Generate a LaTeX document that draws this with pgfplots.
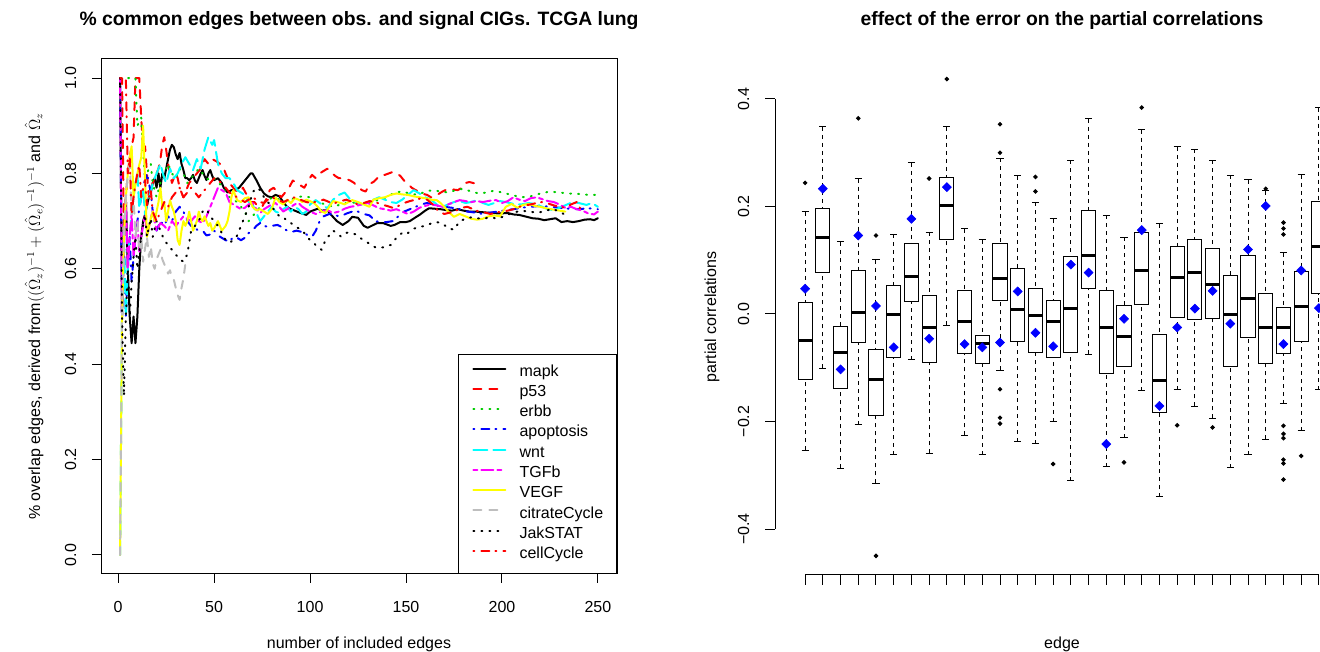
\documentclass[border=0pt]{standalone}
\usepackage{pgfplots}
\pgfplotsset{compat=1.18}
\usepgfplotslibrary{statistics}
\usepackage{fontspec}
\setmainfont{Liberation Sans}

\definecolor{rred}{RGB}{255,0,0}
\definecolor{rgreen}{RGB}{0,205,0}
\definecolor{rblue}{RGB}{0,0,255}
\definecolor{rcyan}{RGB}{0,255,255}
\definecolor{rmagenta}{RGB}{255,0,255}
\definecolor{ryellow}{RGB}{255,255,0}
\definecolor{rgray}{RGB}{190,190,190}

% R line types at lwd=2 (1 px = 0.75pt)
\tikzset{
  ldashed/.style={dash pattern=on 6pt off 6pt},
  ldotted/.style={dash pattern=on 0.75pt off 5.25pt},
  ldotdash/.style={dash pattern=on 0.75pt off 5.25pt on 6pt off 4.5pt},
  llongdash/.style={dash pattern=on 10.5pt off 4.5pt},
  ltwodash/.style={dash pattern=on 3pt off 3pt on 9pt off 3pt},
}

\newcommand{\bx}[7]{%
  \addplot[black, line width=0.75pt, mark=*, mark size=1.3pt, mark options={solid, fill=black},
    boxplot prepared={draw position=#1, lower whisker=#2, lower quartile=#3,
      median=#4, upper quartile=#5, upper whisker=#6}] coordinates {#7};}

\begin{document}
\begin{tikzpicture}
\useasboundingbox (0,0) rectangle (990pt,489pt);
\clip (0,0) rectangle (990pt,489pt);

% ---------------- left panel ----------------
\begin{axis}[
  at={(75.75pt,58.5pt)}, anchor=south west,
  scale only axis, width=387pt, height=386.25pt,
  xmin=-8.96, xmax=259.96, ymin=-0.04, ymax=1.04,
  xtick={0,50,100,150,200,250}, xticklabels={0,50,100,150,200,250},
  ytick={0,0.2,0.4,0.6,0.8,1}, yticklabels={0.0,0.2,0.4,0.6,0.8,1.0},
  xtick pos=bottom, ytick pos=left,
  tick align=outside, major tick length=6.75pt,
  tick style={black, line width=0.75pt},
  axis line style={line width=0.75pt},
  tick label style={font=\fontsize{12}{14}\selectfont},
  yticklabel style={rotate=90, anchor=south},
  yticklabel shift=8.25pt, xticklabel shift=10.5pt,
  every axis plot/.append style={line width=1.5pt, line cap=round, line join=round},
  legend cell align=left,
  legend image code/.code={\draw[#1] (0pt,0.33em) -- (24pt,0.33em);},
  legend style={at={(1,0)}, anchor=south east, draw=black, line width=0.75pt,
    font=\fontsize{12}{14}\selectfont, inner xsep=10pt, inner ysep=6pt,
    row sep=0pt, column sep=10pt,
    nodes={inner sep=0pt, text height=10pt, text depth=5.2pt}},
]
% mapk
\addplot[black] coordinates {
(1,1)(2,0.5)(3,0.667)(4,0.75)(5,0.6)(6,0.5)(7,0.444)(8,0.5)(9,0.444)(10,0.5)(11,0.6)(12,0.667)(13,0.7)(14,0.714)(15,0.733)(16,0.75)(17,0.76)(18,0.78)(19,0.79)(20,0.77)(21,0.80)(22,0.77)(23,0.80)(24,0.79)(25,0.81)(26,0.83)(27,0.85)(28,0.86)(29,0.855)(30,0.84)(31,0.83)(32,0.843)(33,0.82)(34,0.807)(35,0.79)(36,0.79)(37,0.786)(38,0.79)(39,0.797)(40,0.785)(41,0.78)(42,0.79)(43,0.80)(44,0.807)(45,0.795)(46,0.786)(47,0.80)(48,0.807)(49,0.795)(50,0.786)(52,0.79)(54,0.78)(55,0.77)(57,0.76)(59,0.765)(61,0.765)(63,0.77)(65,0.78)(67,0.79)(69,0.80)(70,0.80)(72,0.786)(74,0.77)(76,0.758)(78,0.752)(80,0.75)(82,0.755)(84,0.752)(86,0.74)(88,0.73)(90,0.725)(92,0.722)(95,0.717)(98,0.713)(100,0.72)(102,0.723)(104,0.726)(106,0.722)(109,0.723)(111,0.713)(114,0.70)(117,0.692)(120,0.70)(122,0.709)(125,0.707)(128,0.69)(130,0.686)(133,0.692)(135,0.696)(138,0.696)(140,0.693)(142,0.69)(144,0.692)(147,0.698)(150,0.698)(152,0.70)(155,0.708)(157,0.713)(160,0.722)(162,0.727)(165,0.726)(168,0.725)(171,0.723)(174,0.722)(177,0.725)(180,0.722)(183,0.72)(186,0.72)(189,0.719)(192,0.718)(195,0.717)(199,0.716)(203,0.717)(206,0.714)(209,0.713)(212,0.71)(216,0.706)(219,0.705)(222,0.702)(225,0.704)(228,0.706)(231,0.698)(234,0.70)(237,0.698)(240,0.70)(243,0.703)(246,0.704)(248,0.702)(250,0.706)
};
% p53
\addplot[rred, ldashed] coordinates {
(1,1)(2,1)(3,0.667)(4,0.75)(5,0.8)(6,0.833)(7,0.857)(8,0.875)(9,1)(10,1)(11,1)(12,0.917)(13,0.846)(14,0.857)(15,0.8)(16,0.75)(17,0.765)(18,0.78)(19,0.79)(20,0.80)(21,0.81)(22,0.83)(23,0.86)(24,0.876)(25,0.85)(26,0.82)(27,0.80)(28,0.78)(29,0.79)(30,0.80)(31,0.79)(32,0.77)(33,0.76)(34,0.75)(35,0.76)(37,0.78)(39,0.79)(41,0.80)(43,0.81)(45,0.83)(47,0.82)(49,0.83)(51,0.826)(53,0.82)(55,0.81)(57,0.79)(59,0.775)(61,0.765)(63,0.76)(65,0.77)(67,0.755)(69,0.74)(71,0.74)(73,0.73)(75,0.73)(77,0.745)(79,0.765)(81,0.77)(83,0.76)(85,0.75)(87,0.76)(89,0.77)(91,0.785)(93,0.78)(95,0.775)(97,0.77)(99,0.785)(101,0.797)(103,0.79)(105,0.80)(107,0.805)(109,0.81)(111,0.803)(113,0.795)(115,0.79)(117,0.79)(119,0.788)(121,0.785)(123,0.78)(125,0.772)(127,0.765)(129,0.762)(131,0.778)(133,0.782)(135,0.79)(137,0.797)(139,0.797)(141,0.80)(143,0.803)(145,0.80)(147,0.795)(149,0.785)(151,0.778)(153,0.77)(155,0.765)(157,0.762)(159,0.757)(161,0.755)(163,0.75)(165,0.752)(167,0.757)(169,0.762)(171,0.766)(173,0.768)(175,0.766)(177,0.765)(179,0.77)(181,0.78)(183,0.782)(185,0.78)(187,0.778)(189,0.78)
};
% erbb
\addplot[rgreen, ldotted] coordinates {
(1,1)(2,1)(3,1)(4,1)(5,1)(6,1)(7,1)(8,1)(9,1)(10,0.9)(11,0.909)(12,0.917)(13,0.846)(14,0.786)(15,0.8)(16,0.81)(17,0.82)(18,0.78)(20,0.75)(22,0.78)(24,0.80)(26,0.82)(28,0.80)(30,0.79)(32,0.81)(34,0.80)(36,0.78)(38,0.79)(40,0.80)(42,0.81)(44,0.80)(46,0.79)(48,0.785)(50,0.79)(52,0.78)(54,0.775)(56,0.76)(58,0.75)(60,0.745)(62,0.74)(64,0.73)(66,0.72)(68,0.70)(70,0.71)(72,0.72)(75,0.735)(78,0.745)(81,0.75)(84,0.745)(87,0.74)(90,0.745)(93,0.75)(96,0.752)(100,0.75)(104,0.74)(108,0.735)(112,0.73)(116,0.735)(120,0.74)(124,0.738)(128,0.735)(132,0.74)(136,0.745)(140,0.75)(144,0.76)(148,0.762)(152,0.758)(156,0.755)(160,0.762)(164,0.765)(168,0.762)(172,0.76)(176,0.765)(180,0.768)(184,0.762)(188,0.758)(192,0.76)(196,0.764)(200,0.76)(205,0.755)(210,0.75)(215,0.752)(220,0.758)(225,0.762)(230,0.76)(235,0.758)(240,0.757)(245,0.755)(250,0.755)
};
% apoptosis
\addplot[rblue, ldotdash] coordinates {
(1,1)(2,0.5)(3,0.667)(4,0.5)(5,0.6)(6,0.667)(7,0.571)(8,0.625)(9,0.667)(10,0.7)(11,0.727)(12,0.75)(13,0.77)(14,0.786)(15,0.8)(16,0.78)(17,0.76)(18,0.72)(19,0.70)(20,0.68)(22,0.70)(24,0.69)(26,0.71)(28,0.70)(30,0.72)(32,0.73)(34,0.72)(36,0.70)(38,0.69)(40,0.685)(42,0.68)(44,0.68)(46,0.67)(48,0.672)(50,0.68)(52,0.67)(54,0.665)(56,0.66)(58,0.657)(60,0.667)(62,0.665)(64,0.66)(66,0.665)(68,0.675)(70,0.68)(72,0.69)(74,0.696)(76,0.69)(78,0.688)(80,0.69)(83,0.692)(86,0.686)(88,0.68)(90,0.677)(93,0.68)(96,0.677)(99,0.67)(101,0.667)(103,0.68)(105,0.70)(107,0.71)(110,0.715)(113,0.712)(116,0.71)(119,0.716)(122,0.72)(125,0.72)(128,0.715)(131,0.712)(134,0.70)(137,0.698)(140,0.698)(143,0.70)(146,0.71)(149,0.72)(152,0.725)(155,0.73)(158,0.735)(161,0.738)(164,0.735)(167,0.732)(170,0.73)(174,0.728)(178,0.725)(182,0.72)(186,0.718)(190,0.715)(194,0.718)(198,0.72)(202,0.723)(206,0.725)(210,0.728)(215,0.73)(220,0.732)(225,0.73)(230,0.728)(235,0.726)(240,0.725)(245,0.727)(250,0.725)
};
% wnt
\addplot[rcyan, llongdash] coordinates {
(1,0)(2,0.5)(3,0.667)(4,0.5)(5,0.6)(6,0.667)(7,0.714)(8,0.75)(9,0.778)(10,0.8)(11,0.727)(12,0.75)(13,0.769)(14,0.714)(15,0.733)(16,0.75)(17,0.76)(18,0.78)(19,0.79)(20,0.80)(22,0.82)(24,0.79)(25,0.78)(27,0.81)(29,0.79)(31,0.80)(33,0.82)(35,0.834)(37,0.82)(39,0.807)(41,0.83)(43,0.81)(45,0.85)(47,0.876)(49,0.86)(50,0.87)(52,0.82)(54,0.80)(56,0.79)(58,0.79)(60,0.78)(62,0.765)(64,0.76)(66,0.755)(68,0.74)(70,0.735)(72,0.717)(74,0.70)(76,0.71)(78,0.72)(80,0.73)(82,0.72)(84,0.717)(86,0.725)(88,0.73)(90,0.72)(92,0.73)(94,0.725)(96,0.715)(98,0.72)(100,0.735)(103,0.744)(106,0.735)(109,0.727)(112,0.745)(115,0.755)(118,0.76)(121,0.745)(124,0.74)(127,0.735)(130,0.74)(133,0.745)(136,0.75)(139,0.745)(142,0.74)(145,0.738)(148,0.745)(151,0.755)(154,0.765)(157,0.758)(160,0.75)(163,0.745)(166,0.735)(169,0.73)(172,0.735)(175,0.74)(178,0.742)(181,0.738)(184,0.74)(187,0.744)(190,0.738)(193,0.734)(196,0.738)(199,0.742)(202,0.74)(206,0.736)(210,0.735)(214,0.738)(218,0.735)(221,0.73)(224,0.725)(227,0.723)(230,0.728)(234,0.735)(237,0.74)(240,0.738)(244,0.734)(247,0.738)(250,0.73)
};
% TGFb
\addplot[rmagenta, ltwodash] coordinates {
(1,1)(2,0.5)(3,0.667)(4,0.75)(5,0.6)(6,0.667)(7,0.714)(8,0.625)(9,0.667)(10,0.7)(11,0.636)(12,0.667)(13,0.692)(14,0.714)(15,0.667)(16,0.6875)(17,0.706)(18,0.722)(19,0.70)(20,0.68)(22,0.696)(24,0.69)(26,0.68)(28,0.70)(30,0.69)(32,0.70)(34,0.71)(36,0.705)(38,0.70)(40,0.71)(42,0.70)(44,0.696)(46,0.71)(48,0.73)(50,0.75)(52,0.77)(54,0.765)(56,0.76)(58,0.74)(60,0.735)(62,0.73)(64,0.725)(66,0.728)(68,0.735)(70,0.738)(72,0.725)(74,0.717)(76,0.725)(78,0.73)(80,0.735)(82,0.738)(84,0.73)(86,0.72)(88,0.725)(90,0.73)(92,0.735)(94,0.738)(96,0.73)(98,0.725)(100,0.72)(103,0.715)(106,0.72)(109,0.723)(112,0.717)(115,0.72)(118,0.726)(121,0.73)(124,0.732)(127,0.735)(130,0.738)(133,0.733)(136,0.727)(139,0.725)(142,0.722)(145,0.725)(148,0.72)(151,0.715)(154,0.72)(157,0.728)(160,0.732)(163,0.735)(166,0.733)(169,0.73)(172,0.735)(175,0.74)(178,0.744)(181,0.742)(184,0.74)(187,0.742)(190,0.74)(194,0.743)(197,0.744)(200,0.738)(203,0.742)(206,0.75)(209,0.745)(212,0.742)(215,0.748)(218,0.75)(221,0.746)(224,0.742)(227,0.74)(230,0.735)(233,0.728)(236,0.73)(239,0.725)(242,0.722)(245,0.716)(248,0.714)(250,0.72)
};
% VEGF
\addplot[ryellow] coordinates {
(1,0)(2,0.5)(3,0.667)(4,0.75)(5,0.8)(6,0.833)(7,0.857)(8,0.75)(9,0.778)(10,0.8)(11,0.818)(12,0.833)(13,0.9)(14,0.786)(15,0.667)(16,0.6875)(17,0.706)(18,0.72)(19,0.70)(20,0.72)(21,0.74)(22,0.77)(23,0.73)(24,0.74)(25,0.70)(26,0.72)(27,0.744)(28,0.73)(29,0.72)(30,0.70)(31,0.66)(32,0.65)(33,0.68)(34,0.70)(35,0.69)(36,0.70)(37,0.72)(38,0.70)(39,0.68)(40,0.69)(41,0.70)(42,0.72)(43,0.705)(44,0.70)(45,0.71)(46,0.70)(47,0.69)(48,0.696)(49,0.68)(50,0.685)(52,0.70)(54,0.68)(56,0.69)(57,0.70)(58,0.72)(59,0.75)(60,0.765)(62,0.744)(64,0.74)(66,0.748)(68,0.75)(70,0.73)(72,0.723)(74,0.725)(76,0.72)(78,0.715)(80,0.725)(82,0.75)(84,0.74)(86,0.735)(88,0.745)(90,0.738)(92,0.748)(94,0.745)(96,0.74)(98,0.745)(100,0.742)(102,0.738)(104,0.73)(106,0.72)(108,0.717)(110,0.73)(112,0.742)(114,0.74)(116,0.738)(118,0.735)(120,0.74)(122,0.744)(125,0.74)(128,0.735)(131,0.73)(133,0.745)(136,0.748)(139,0.75)(142,0.755)(145,0.758)(148,0.756)(151,0.755)(154,0.752)(157,0.75)(160,0.748)(163,0.745)(166,0.744)(168,0.738)(170,0.73)(172,0.72)(175,0.709)(178,0.715)(181,0.71)(184,0.705)(187,0.703)(190,0.705)(193,0.71)(196,0.712)(199,0.71)(202,0.73)(205,0.736)(208,0.728)(211,0.734)(214,0.736)(217,0.732)(220,0.73)(224,0.726)(227,0.724)(230,0.722)(233,0.72)
};
% citrateCycle
\addplot[rgray, ldashed] coordinates {
(1,0)(2,0.5)(3,0.667)(4,0.75)(5,0.8)(6,0.833)(7,0.714)(8,0.75)(9,0.667)(10,0.7)(11,0.636)(12,0.667)(13,0.615)(14,0.643)(15,0.667)(16,0.625)(17,0.647)(18,0.611)(19,0.6)(20,0.62)(21,0.63)(22,0.64)(23,0.62)(24,0.61)(25,0.6)(26,0.59)(27,0.597)(28,0.58)(29,0.577)(30,0.56)(31,0.545)(32,0.535)(33,0.56)(34,0.58)(35,0.61)
};
% JakSTAT
\addplot[black, ldotted] coordinates {
(1,1)(2,0.5)(3,0.333)(4,0.5)(5,0.6)(6,0.5)(7,0.571)(8,0.625)(9,0.667)(10,0.6)(11,0.636)(12,0.667)(13,0.692)(14,0.714)(15,0.667)(16,0.6875)(17,0.706)(18,0.667)(19,0.684)(20,0.70)(22,0.68)(24,0.66)(26,0.65)(28,0.64)(30,0.63)(32,0.62)(34,0.615)(36,0.63)(38,0.68)(40,0.69)(42,0.70)(44,0.72)(46,0.725)(48,0.71)(50,0.70)(52,0.69)(54,0.675)(56,0.66)(58,0.655)(60,0.66)(62,0.67)(64,0.69)(66,0.71)(68,0.73)(70,0.76)(72,0.77)(74,0.765)(76,0.75)(78,0.74)(80,0.73)(82,0.72)(84,0.71)(86,0.709)(88,0.70)(90,0.696)(92,0.69)(94,0.685)(96,0.68)(98,0.67)(100,0.66)(102,0.654)(104,0.645)(106,0.64)(108,0.66)(110,0.67)(112,0.68)(114,0.675)(116,0.668)(118,0.675)(120,0.676)(122,0.674)(124,0.672)(126,0.665)(128,0.66)(130,0.655)(132,0.65)(134,0.645)(136,0.644)(138,0.645)(140,0.648)(142,0.65)(144,0.66)(146,0.67)(148,0.675)(150,0.672)(152,0.678)(154,0.684)(157,0.688)(160,0.69)(163,0.695)(166,0.698)(169,0.695)(172,0.685)(175,0.682)(178,0.70)(181,0.705)(184,0.708)(187,0.706)(190,0.705)(194,0.708)(198,0.705)(202,0.712)(206,0.718)(210,0.722)(214,0.72)(218,0.718)(222,0.72)(226,0.726)(230,0.72)(233,0.713)
};
% cellCycle
\addplot[rred, ldotdash] coordinates {
(1,1)(2,1)(3,1)(4,1)(5,0.8)(6,0.833)(7,0.714)(8,0.75)(9,0.778)(10,0.8)(11,0.818)(12,0.75)(13,0.769)(14,0.786)(15,0.733)(16,0.75)(17,0.765)(18,0.72)(20,0.70)(22,0.72)(24,0.74)(26,0.73)(28,0.75)(30,0.76)(32,0.77)(34,0.75)(36,0.76)(38,0.77)(40,0.76)(42,0.75)(44,0.76)(46,0.77)(48,0.78)(50,0.79)(52,0.785)(54,0.78)(56,0.77)(58,0.76)(60,0.755)(62,0.75)(64,0.745)(66,0.74)(68,0.745)(70,0.75)(72,0.745)(74,0.74)(76,0.738)(78,0.745)(80,0.75)(83,0.745)(86,0.74)(89,0.745)(92,0.75)(95,0.745)(98,0.74)(101,0.738)(104,0.742)(107,0.745)(110,0.74)(113,0.738)(116,0.742)(119,0.745)(122,0.74)(125,0.735)(128,0.738)(131,0.742)(134,0.74)(137,0.735)(140,0.732)(143,0.728)(146,0.732)(149,0.738)(152,0.742)(155,0.745)(158,0.748)(161,0.745)(164,0.735)(167,0.72)(170,0.715)(173,0.718)(176,0.722)(179,0.728)(182,0.73)(185,0.725)(188,0.72)(191,0.718)(194,0.715)(197,0.718)(200,0.72)(203,0.722)(206,0.725)(209,0.73)(212,0.733)(215,0.735)(218,0.738)(221,0.74)(224,0.737)(227,0.733)(230,0.73)(233,0.728)(236,0.735)(239,0.74)(242,0.717)
};
\legend{mapk,p53,erbb,apoptosis,wnt,TGFb,VEGF,citrateCycle,JakSTAT,cellCycle}
\end{axis}

% ---------------- right panel ----------------
\begin{axis}[
  at={(581.25pt,57.75pt)}, anchor=south west,
  scale only axis, width=430.5pt, height=386.25pt,
  xmin=-0.7, xmax=31.7, ymin=-0.4855, ymax=0.4725,
  axis lines*=left, axis line style={draw=none},
  xtick={1,...,30}, xticklabels={,,},
  ytick={-0.4,-0.2,0,0.2,0.4}, yticklabels={−0.4,−0.2,0.0,0.2,0.4},
  tick align=outside, major tick length=7.5pt,
  tick style={black, line width=0.75pt},
  tick label style={font=\fontsize{12}{14}\selectfont},
  yticklabel style={rotate=90, anchor=south},
  yticklabel shift=8.25pt,
  clip=false,
  boxplot/draw direction=y,
  boxplot/box extend=0.8,
  boxplot/whisker extend=0.4,
  boxplot/every median/.style={line width=2.25pt},
  boxplot/draw/lower whisker/.code={%
    \draw[dash pattern=on 3pt off 3pt]
      (boxplot box cs:\pgfplotsboxplotvalue{lower whisker},0.5) --
      (boxplot box cs:\pgfplotsboxplotvalue{lower quartile},0.5);
    \draw[solid]
      (boxplot whisker cs:\pgfplotsboxplotvalue{lower whisker},0) --
      (boxplot whisker cs:\pgfplotsboxplotvalue{lower whisker},1);},
  boxplot/draw/upper whisker/.code={%
    \draw[dash pattern=on 3pt off 3pt]
      (boxplot box cs:\pgfplotsboxplotvalue{upper whisker},0.5) --
      (boxplot box cs:\pgfplotsboxplotvalue{upper quartile},0.5);
    \draw[solid]
      (boxplot whisker cs:\pgfplotsboxplotvalue{upper whisker},0) --
      (boxplot whisker cs:\pgfplotsboxplotvalue{upper whisker},1);},
]
\draw[line width=0.75pt] (axis cs:-0.7,-0.4) -- (axis cs:-0.7,0.4);
\draw[line width=0.75pt] (axis cs:1,-0.4855) -- (axis cs:30,-0.4855);
\bx{1}{-0.253}{-0.122}{-0.049}{0.022}{0.190}{(0,0.244)}
\bx{2}{-0.101}{0.077}{0.142}{0.197}{0.348}{}
\bx{3}{-0.287}{-0.138}{-0.072}{-0.023}{0.134}{}
\bx{4}{-0.206}{-0.053}{0.002}{0.080}{0.252}{(0,0.364)}
\bx{5}{-0.315}{-0.188}{-0.121}{-0.066}{0.101}{(0,0.146)(0,-0.450)}
\bx{6}{-0.262}{-0.080}{-0.001}{0.053}{0.148}{}
\bx{7}{-0.085}{0.024}{0.070}{0.131}{0.281}{}
\bx{8}{-0.259}{-0.090}{-0.026}{0.034}{0.152}{(0,0.252)}
\bx{9}{-0.021}{0.139}{0.202}{0.254}{0.348}{(0,0.437)}
\bx{10}{-0.226}{-0.073}{-0.014}{0.044}{0.159}{}
\bx{11}{-0.262}{-0.093}{-0.054}{-0.040}{0.138}{}
\bx{12}{-0.105}{0.025}{0.066}{0.131}{0.290}{(0,0.353)(0,0.300)(0,-0.140)(0,-0.193)(0,-0.204)}
\bx{13}{-0.238}{-0.051}{0.008}{0.084}{0.257}{}
\bx{14}{-0.241}{-0.072}{-0.003}{0.047}{0.208}{(0,0.255)(0,0.228)}
\bx{15}{-0.200}{-0.080}{-0.014}{0.026}{0.177}{(0,-0.279)}
\bx{16}{-0.310}{-0.071}{0.010}{0.107}{0.286}{}
\bx{17}{-0.075}{0.048}{0.109}{0.192}{0.363}{}
\bx{18}{-0.284}{-0.111}{-0.026}{0.044}{0.184}{}
\bx{19}{-0.230}{-0.097}{-0.041}{0.015}{0.143}{(0,-0.276)}
\bx{20}{-0.143}{0.018}{0.080}{0.151}{0.343}{(0,0.384)}
\bx{21}{-0.340}{-0.183}{-0.123}{-0.039}{0.168}{}
\bx{22}{-0.141}{-0.006}{0.067}{0.126}{0.311}{(0,-0.207)}
\bx{23}{-0.172}{-0.010}{0.078}{0.139}{0.306}{}
\bx{24}{-0.194}{-0.009}{0.055}{0.122}{0.286}{(0,-0.211)}
\bx{25}{-0.286}{-0.097}{-0.001}{0.072}{0.258}{}
\bx{26}{-0.262}{-0.044}{0.029}{0.108}{0.250}{}
\bx{27}{-0.233}{-0.092}{-0.026}{0.038}{0.229}{(0,0.233)}
\bx{28}{-0.167}{-0.074}{-0.026}{0.012}{0.114}{(0,0.170)(0,0.159)(0,0.148)(0,-0.208)(0,-0.223)(0,-0.231)(0,-0.271)(0,-0.278)(0,-0.308)}
\bx{29}{-0.217}{-0.051}{0.014}{0.079}{0.259}{(0,-0.264)}
\bx{30}{-0.141}{0.038}{0.125}{0.209}{0.384}{}
% true values
\addplot[only marks, mark=square*, mark size=2.4pt,
  mark options={rotate=45, solid, fill=rblue, draw=rblue}] coordinates {
(1,0.047)(2,0.233)(3,-0.103)(4,0.146)(5,0.015)(6,-0.062)(7,0.177)(8,-0.046)(9,0.236)(10,-0.056)
(11,-0.062)(12,-0.053)(13,0.042)(14,-0.035)(15,-0.060)(16,0.092)(17,0.077)(18,-0.242)(19,-0.009)(20,0.156)
(21,-0.171)(22,-0.025)(23,0.010)(24,0.043)(25,-0.018)(26,0.120)(27,0.201)(28,-0.056)(29,0.081)(30,0.011)
};
\end{axis}

% ---------------- titles and axis labels ----------------
\node[anchor=base, font=\bfseries\fontsize{14.5}{17}\selectfont] at (269.25pt,469.5pt)
  {\% common edges between obs. and signal CIGs. TCGA lung};
\node[anchor=base, font=\bfseries\fontsize{14.5}{17}\selectfont] at (796.5pt,469.5pt)
  {effect of the error on the partial correlations};
\node[anchor=base, font=\fontsize{12}{14}\selectfont] at (269.25pt,2.25pt) {number of included edges};
\node[anchor=base, font=\fontsize{12}{14}\selectfont] at (796.5pt,2.25pt) {edge};
\node[anchor=base, rotate=90, font=\fontsize{12}{14}\selectfont] at (30pt,251.6pt)
  {\% overlap edges, derived from$((\hat{\Omega}_z)^{-1}+(\hat{\Omega}_e)^{-1})^{-1}$ and $\hat{\Omega}_z$};
\node[anchor=base, rotate=90, font=\fontsize{12}{14}\selectfont] at (537pt,251.25pt) {partial correlations};
\end{tikzpicture}
\end{document}
